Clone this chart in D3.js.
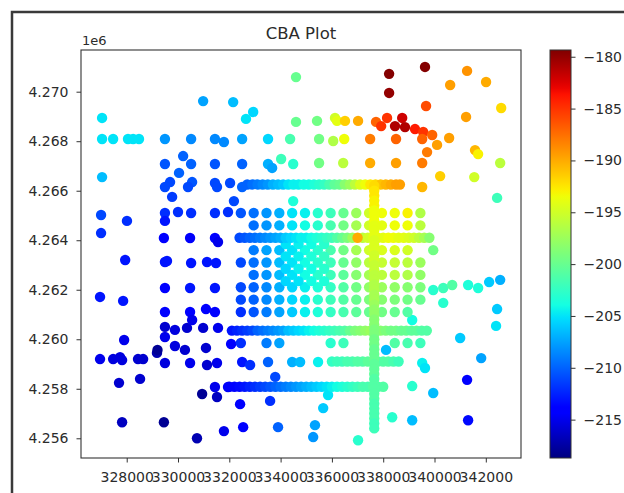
<!DOCTYPE html>
<html><head><meta charset="utf-8">
<script src="https://cdn.jsdelivr.net/npm/d3@7"></script>
<style>
html,body{margin:0;padding:0;background:#fff;}
svg{display:block;font-family:"DejaVu Sans",sans-serif;}
</style></head><body>
<svg id="chart" width="624" height="493"></svg>
<script>
// ---- Survey data: easting (m), northing (m), CBA value ----
const westPoints = [
[330980,4269620,-207.5],[332150,4269580,-206.5],[327040,4268940,-205],[332930,4269180,-205.5],[332650,4268900,-205],
[327040,4268090,-205],[327470,4268090,-205],[328050,4268090,-205],[328250,4268090,-205],[328480,4268090,-205],
[329490,4268090,-208],[330510,4268090,-208.5],[331440,4268090,-208.5],[331790,4267970,-208.5],[332500,4268090,-207.5],
[333510,4268090,-205.5],[334370,4268090,-201.5],[330200,4267400,-210],[334020,4267280,-202],
[329490,4267080,-210.5],[330510,4267080,-210],[331440,4267080,-210.5],[332500,4267080,-210],[333510,4267080,-207],
[333670,4266920,-207.5],[334490,4267080,-203],[327040,4266550,-206.5],[330040,4266720,-210],
[329690,4266350,-211],[329490,4266150,-211],[330550,4266350,-210.5],[330390,4266150,-211],[331440,4266310,-211],
[331520,4266150,-211],[332030,4266310,-211],[332500,4266150,-210],[329770,4265750,-211.5],[332180,4265580,-211],
[327000,4265020,-211],[328010,4264780,-212],[329490,4265100,-212],[329490,4264780,-213],[330000,4265140,-212],
[330510,4265100,-212],[331440,4265100,-212],[331950,4265140,-212],[327000,4264290,-212],
[329450,4264090,-214],[330470,4264090,-214.5],[331440,4264090,-214],[331560,4263930,-215],
[327940,4263200,-213],[329490,4263120,-213],[329570,4263160,-213],[330510,4263080,-213],[331130,4263120,-213],
[331480,4263080,-213],[326960,4261710,-213],[327860,4261550,-213],[329490,4262070,-214],[330470,4262070,-213],
[331440,4262070,-213],[329490,4261100,-214],[330470,4261100,-214],[331090,4261220,-214],[331440,4261100,-214],
[329490,4260500,-216],[329880,4260380,-215.5],[330350,4260460,-216],[330550,4260780,-215],[330980,4260460,-216],
[331560,4260460,-215],[329490,4260090,-215],[327900,4259970,-215],[329880,4259730,-215.5],[330270,4259570,-216],
[331090,4259650,-216],[332070,4259810,-214],[329180,4259450,-217],[329200,4259570,-218],
[326960,4259200,-215],[327470,4259200,-215.5],[327740,4259280,-215.5],[327820,4259160,-215.5],[328440,4259200,-216],
[328640,4259200,-216],[329490,4259040,-215.5],[330470,4259040,-215],[331130,4258960,-216],[331520,4259040,-215],
[332500,4259080,-213],[332810,4258960,-212],[333510,4259080,-210],[334450,4259080,-207],
[327700,4258240,-216],[328520,4258400,-216],[330940,4257790,-218],[331440,4258070,-215],[331520,4257670,-216.5],
[331950,4258070,-214.5],[332420,4257380,-214],[333590,4257510,-212],[333790,4258480,-211],
[327820,4256650,-216.5],[329450,4256650,-218],[330740,4256000,-217],[331790,4256290,-215],[332540,4256450,-214],
[333900,4256450,-210]
];

const northEastPoints = [
[334600,4270590,-200],[338230,4270720,-179.5],[339630,4271000,-179.5],[338230,4269950,-180],
[341270,4270840,-189],[342010,4270390,-190],[340610,4270270,-189.5],[339670,4269420,-186],
[342600,4269340,-192],[341230,4268980,-189.5],
[334600,4268780,-200],[335420,4268820,-199.5],[336120,4268940,-195],[336200,4268820,-194],[336510,4268820,-191.5],
[337020,4268820,-190],[337720,4268780,-187],[338150,4268940,-185],[337920,4268610,-185],[338460,4268610,-181],
[338740,4268940,-182],[338850,4268570,-181],[339240,4268490,-184],[339560,4268370,-185],[339910,4268250,-187],
[335500,4268090,-199.5],[336050,4268010,-196.5],[336480,4268090,-193.5],[337490,4268090,-188],[338500,4268090,-187],
[339520,4268090,-187],[340100,4267850,-189.5],[340570,4268130,-189.5],[339710,4267560,-188],[341580,4267640,-190.5],
[341700,4267480,-193],[335500,4267120,-199.5],[336440,4267120,-196],[337490,4267120,-190],[338500,4267120,-189.5],
[339520,4267120,-188],[342560,4267120,-196],[340220,4266590,-191.5],[341550,4266550,-195],[339520,4266150,-190.5],
[342440,4265710,-202],[334490,4265580,-203.5]
];

const eastPoints = [
[339950,4261990,-203],[340340,4262070,-202],[340690,4262190,-201],[341310,4262190,-203.5],[341700,4262070,-203.5],
[342130,4262310,-206],[342560,4262400,-207],[340340,4261470,-203],[342440,4261220,-206],[342400,4260540,-205],
[341000,4260050,-206],[341820,4259240,-207.5],[341270,4258360,-214],[341310,4256730,-213.5],[338110,4259570,-206.5],
[339520,4259040,-204.5],[339630,4258840,-205],[339130,4258110,-203],[339950,4257830,-206.5],[338350,4256850,-203],
[339130,4256730,-206.5],[337020,4255920,-203],[335340,4256530,-207.5],[335270,4256050,-208],[335660,4257220,-206],
[335850,4257750,-205],[334760,4259080,-206.5],[335460,4259080,-204.5],[339130,4260780,-204]
];

// Regular 500 m grid: column eastings, and one value per column for each row (null = no station)
const gridEast = [332450,332950,333450,333950,334450,334950,335450,335950,336450,336950,337450,337950,338450,338950,339450,339950];
const gridRows = [
{north:4265100, vals:[-210.5,-209.5,-208,-207,-205,-204.5,-203,-202,-200,-197.5,-195,-193.5,-193.5,-193,-196.5,null]},
{north:4264600, vals:[null,-209.5,-208,-207,-205,-204,-203,-201.5,-199.5,-197,-195,-194,-193.5,-193.5,-196,null]},
{north:4263600, vals:[null,-209,-207.5,-206.5,-205,-204,-203,-201.5,-199.5,-197,-195,-194.5,-194.5,-195,null,-199.5]},
{north:4263100, vals:[-211,-209.5,-208,-206.5,-205,-204,-203,-202,-200,-198,-196,-195.5,-195.5,-196,-197.5,null]},
{north:4262600, vals:[null,-209.5,-208,-206.5,-205,-204,-203,-202,-200.5,-198.5,-197,-196,-196,-196.5,-198,null]},
{north:4262100, vals:[-211,-210,-208.5,-207,-205.5,-204.5,-203.5,-202.5,-201,-199.5,-198,-197.5,-198,-198.5,-199,null]},
{north:4261600, vals:[-211,-210,-208.5,-207,-205.5,-204.5,-203,-202,-201,-200,-199,-198.5,-199,-199.5,-200,null]},
{north:4261100, vals:[-212,-210.5,-209,-207.5,-206,-204.5,-203.5,-202.5,-201.5,-200.5,-200,-199.5,-200,-201,null,null]},
{north:4259850, vals:[-212,null,-209,-207.5,null,null,null,-203,-202,null,null,null,-201,-201.5,-202,null]}
];

// Infill stations between grid nodes
const infillPoints = [
[334200,4263850,-205],[334700,4263850,-204.5],[335200,4263850,-204],[335700,4263850,-203],
[334200,4263350,-205],[334700,4263350,-204.5],[335200,4263350,-203.5],[335700,4263350,-202.5],
[334200,4262850,-205.5],[334700,4262850,-204.5],[335200,4262850,-204],[335700,4262850,-203],
[334200,4262350,-205.5],[334700,4262350,-205],[335200,4262350,-204],[335700,4262350,-203.5]
];

// East-west traverses: [easting, value]
const traverseLines = [
{north:4266250, stations:[[332700,-210],[332900,-209.5],[333100,-209],[333300,-208.5],[333500,-208],[333700,-207],
 [333900,-206.5],[334100,-206],[334300,-205],[334500,-204.5],[334700,-204.5],[334900,-204],[335100,-204],[335300,-203.5],
 [335500,-203],[335700,-202.5],[335900,-201.5],[336100,-200.5],[336300,-200],[336500,-198.5],[336700,-197.5],[336900,-196],
 [337100,-194.5],[337300,-193.5],[337500,-192.5],[337700,-192],[337900,-191],[338100,-190.5],[338300,-190],[338500,-189.5],[338650,-189.5]]},
{north:4264100, stations:[[332400,-211],[332600,-210.5],[332800,-210],[333000,-209.5],[333200,-209],[333400,-208.5],
 [333600,-208],[333800,-207.5],[334000,-207],[334200,-206],[334400,-205.5],[334600,-205],[334800,-204.5],[335000,-204.5],
 [335200,-204],[335400,-203.5],[335600,-203],[335800,-202.5],[336000,-202],[336200,-201],[336400,-200],[336600,-199],
 [336800,-197.5],[337200,-196],[337400,-195],[337600,-194.5],[337800,-194],[338000,-194],[338200,-193.5],[338400,-193.5],
 [338600,-194],[338800,-194],[339000,-194.5],[339200,-195],[339400,-196],[339600,-197],[339800,-198.5],[337000,-190]]},
{north:4260350, stations:[[332100,-213],[332300,-212.5],[332500,-212],[332700,-211.5],[332900,-211],[333100,-210],
 [333300,-209.5],[333500,-209],[333700,-208.5],[333900,-208],[334100,-207.5],[334300,-206.5],[334500,-206],[334700,-205.5],
 [334900,-205],[335100,-204.5],[335300,-204],[335500,-203.5],[335700,-203],[335900,-202.5],[336100,-202],[336300,-201.5],
 [336500,-201],[336700,-200],[336900,-199],[337100,-198.5],[337300,-198],[337500,-197.5],[337700,-198],[337900,-198.5],
 [338100,-199],[338300,-199.5],[338500,-199.5],[338700,-200],[338900,-200],[339100,-200.5],[339300,-200.5],[339500,-201],[339700,-201]]},
{north:4259100, stations:[[336000,-202.5],[336200,-202],[336400,-202],[336600,-201.5],[336800,-201.5],[337000,-201],
 [337200,-201],[337400,-200.5],[337600,-200.5],[337800,-200.5],[338000,-201],[338200,-201],[338400,-201.5],[338600,-202]]},
{north:4258080, stations:[[332000,-214.5],[332200,-214],[332400,-213.5],[332600,-213],[332800,-212.5],[333000,-212],
 [333200,-211.5],[333400,-211],[333600,-210.5],[333800,-210],[334000,-209.5],[334200,-209],[334400,-208.5],[334600,-208],
 [334800,-207.5],[335000,-207],[335200,-206.5],[335400,-206],[335600,-205.5],[335800,-205],[336000,-204.5],[336200,-204],
 [336400,-203.5],[336600,-203],[336800,-202.5],[337000,-202],[337200,-201.5],[337400,-201.5],[337600,-201],[337800,-201],[338000,-201]]}
];

// North-south traverse: [northing, value]
const meridianLine = {east:337650, stations:[
[4266200,-192],[4266000,-192.5],[4265800,-192.5],[4265600,-193],[4265400,-193],[4265200,-193.5],[4265000,-193.5],
[4264800,-193.5],[4264600,-194],[4264400,-194],[4264200,-194],[4264000,-194.5],[4263800,-194.5],[4263600,-194.5],
[4263400,-195],[4263200,-195],[4263000,-195.5],[4262800,-195.5],[4262600,-196],[4262400,-196],[4262200,-196.5],
[4262000,-196.5],[4261800,-197],[4261600,-197],[4261400,-197.5],[4261200,-198],[4261000,-198],[4260800,-198.5],
[4260600,-198.5],[4260400,-199],[4260200,-199],[4260000,-199.5],[4259800,-199.5],[4259600,-200],[4259400,-200],
[4259200,-200],[4259000,-200.5],[4258800,-200.5],[4258600,-200.5],[4258400,-201],[4258200,-201],[4258000,-201],
[4257800,-201],[4257600,-201],[4257400,-201.5],[4257200,-201.5],[4257000,-201.5],[4256800,-201.5],[4256600,-202],[4256400,-202]
]};

const xTicks = [328000,330000,332000,334000,336000,338000,340000,342000];
const yTicks = [4256000,4258000,4260000,4262000,4264000,4266000,4268000,4270000];
const cbarTicks = [-215,-210,-205,-200,-195,-190,-185,-180];
const titleText = "CBA Plot";
const offsetText = "1e6";

// ---- Assemble stations in drawing order ----
const stations = [];
const addTriples = arr => arr.forEach(([e,n,v]) => stations.push({e,n,v}));
addTriples(westPoints);
addTriples(northEastPoints);
addTriples(eastPoints);
gridRows.forEach(r => r.vals.forEach((v,i) => { if (v !== null) stations.push({e:gridEast[i], n:r.north, v}); }));
addTriples(infillPoints);
traverseLines.forEach(t => t.stations.forEach(([e,v]) => stations.push({e, n:t.north, v})));
meridianLine.stations.forEach(([n,v]) => stations.push({e:meridianLine.east, n, v}));

// ---- Layout & scales ----
const plot = {left:81, right:521, top:50, bottom:458};
const bar = {x:550, w:21};
const x = d3.scaleLinear().domain([326218,343372]).range([plot.left, plot.right]);
const y = d3.scaleLinear().domain([4255204,4271684]).range([plot.bottom, plot.top]);
const vmin = -218.7, vmax = -179.35;

// jet colormap
const jetR = d3.scaleLinear().domain([0,0.35,0.66,0.89,1]).range([0,0,1,1,0.5]).clamp(true);
const jetG = d3.scaleLinear().domain([0,0.125,0.375,0.64,0.91,1]).range([0,0,1,1,0,0]).clamp(true);
const jetB = d3.scaleLinear().domain([0,0.11,0.34,0.65,1]).range([0.5,1,1,0,0]).clamp(true);
const norm = d3.scaleLinear().domain([vmin, vmax]).range([0,1]).clamp(true);
const jet = t => d3.rgb(255*jetR(t), 255*jetG(t), 255*jetB(t)).formatHex();
const color = v => jet(norm(v));

const svg = d3.select("#chart");
const ink = "#2b2b2b";

// outer frame
svg.append("path").attr("d","M12,493V12H624").attr("fill","none").attr("stroke","#3a3a3a").attr("stroke-width",2.5);

// scatter
svg.append("g").selectAll("circle").data(stations).join("circle")
  .attr("cx", d => x(d.e)).attr("cy", d => y(d.n)).attr("r", 5.2)
  .attr("fill", d => color(d.v));

// axes box
svg.append("rect").attr("x",plot.left).attr("y",plot.top)
  .attr("width",plot.right-plot.left).attr("height",plot.bottom-plot.top)
  .attr("fill","none").attr("stroke","#333").attr("stroke-width",1.1);

const xAxis = svg.append("g").attr("transform",`translate(0,${plot.bottom})`)
  .call(d3.axisBottom(x).tickValues(xTicks).tickFormat(d3.format("d")).tickSize(4.5).tickPadding(10));
const yAxis = svg.append("g").attr("transform",`translate(${plot.left},0)`)
  .call(d3.axisLeft(y).tickValues(yTicks).tickFormat(d => (d/1e6).toFixed(3)).tickSize(4.5).tickPadding(8));
[xAxis, yAxis].forEach(g => {
  g.select(".domain").remove();
  g.selectAll(".tick line").attr("stroke","#333");
  g.selectAll(".tick text").attr("fill",ink).attr("font-size",14).attr("font-family","DejaVu Sans");
});

// offset text and title
svg.append("text").attr("x",82).attr("y",45).attr("font-size",13).attr("fill",ink).text(offsetText);
svg.append("text").attr("x",(plot.left+plot.right)/2).attr("y",39).attr("text-anchor","middle")
  .attr("font-size",16.5).attr("fill",ink).text(titleText);

// colorbar
const cScale = d3.scaleLinear().domain([vmin, vmax]).range([plot.bottom, plot.top]);
const grad = svg.append("defs").append("linearGradient").attr("id","jetGrad")
  .attr("x1",0).attr("y1",1).attr("x2",0).attr("y2",0);
d3.range(0,1.0001,1/64).forEach(t => grad.append("stop").attr("offset",t).attr("stop-color",jet(t)));
svg.append("rect").attr("x",bar.x).attr("y",plot.top).attr("width",bar.w).attr("height",plot.bottom-plot.top)
  .attr("fill","url(#jetGrad)").attr("stroke","#333").attr("stroke-width",1);
const cAxis = svg.append("g").attr("transform",`translate(${bar.x+bar.w},0)`)
  .call(d3.axisRight(cScale).tickValues(cbarTicks).tickFormat(d => d3.format("d")(d).replace("-","\u2212")).tickSize(4.5).tickPadding(8));
cAxis.select(".domain").remove();
cAxis.selectAll(".tick line").attr("stroke","#333");
cAxis.selectAll(".tick text").attr("fill",ink).attr("font-size",14).attr("font-family","DejaVu Sans");
</script>
</body></html>
